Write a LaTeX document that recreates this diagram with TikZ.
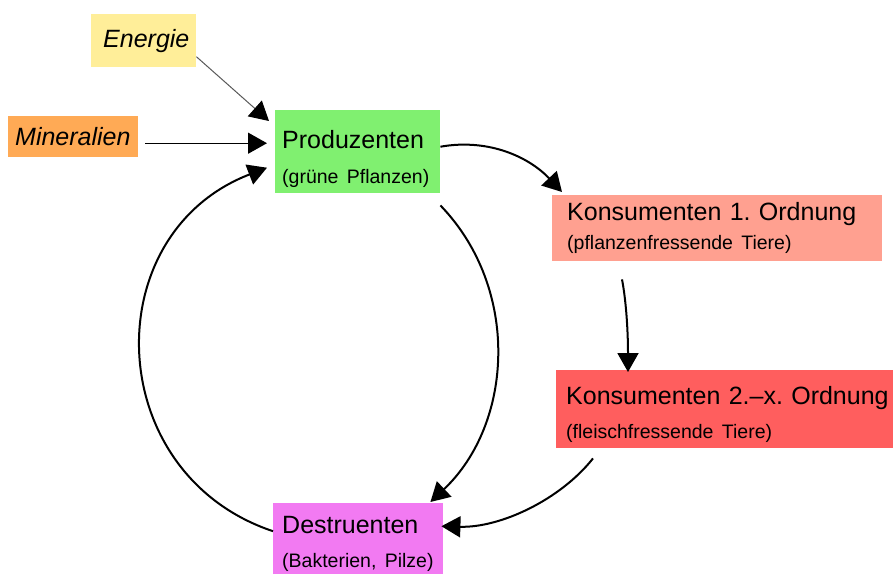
\documentclass[tikz,border=0pt]{standalone}
\usepackage{fontspec}
\setmainfont{Liberation Sans}
\usetikzlibrary{arrows.meta, positioning}

\definecolor{energiegelb}{HTML}{FFEE99}
\definecolor{mineralorange}{HTML}{FFAA55}
\definecolor{produgruen}{HTML}{80F070}
\definecolor{konslachs}{HTML}{FFA090}
\definecolor{konsrot}{HTML}{FF5E5E}
\definecolor{destrlila}{HTML}{F27AF2}

\newcommand{\unter}[1]{{\fontsize{19.5}{24}\selectfont #1}}
\newcommand{\oben}[1]{\rule{0pt}{#1}}

\tikzset{
  feld/.style={anchor=north west, align=left, inner ysep=0pt,
    font=\frenchspacing\fontsize{25}{27}\selectfont},
  pfeil/.style={line width=2pt, -{Triangle[length=19pt, width=21pt, color=black]}}
}

\begin{document}
\begin{tikzpicture}[x=1pt, y=-1pt]
\clip (0,0) rectangle (893,573);
\fill [white] (0,0) rectangle (893,573);

% Zufuhr
\node [feld, fill=energiegelb, minimum height=53, text width=81, inner xsep=12pt] (ener) at (91,14) {\itshape Energie};
\node [feld, fill=mineralorange, minimum height=41, text width=116, inner xsep=7pt] (miner) at (8,116) {\itshape Mineralien};

% Kreislauf
\node [feld, fill=produgruen, minimum height=83, text width=151, inner xsep=7pt] (prod) at (275,110)
  {\oben{32pt}Produzenten\\[8pt]\unter{(grüne Pflanzen)}};
\node [feld, fill=konslachs, minimum height=66, text width=300, inner xsep=15pt] (kons1) at (552,195)
  {Konsumenten 1. Ordnung\\[2pt]\unter{(pflanzenfressende Tiere)}};
\node [feld, fill=konsrot, minimum height=78, text width=360, inner xsep=10pt] (kons2) at (556,370)
  {\oben{28pt}Konsumenten 2.--x. Ordnung\\[7pt]\unter{(fleischfressende Tiere)}};
\node [feld, fill=destrlila, minimum height=74, text width=152, inner xsep=9pt] (destr) at (273,503)
  {\oben{25pt}Destruenten\\[7pt]\unter{(Bakterien, Pilze)}};

\draw [pfeil, line width=1pt, black!65] ([yshift=-16pt]ener.east) -- ([xshift=-6pt,yshift=-11pt]prod.north west);
\draw [pfeil, line width=1.4pt] ([xshift=7pt,yshift=-6.5pt]miner.east) -- ([xshift=-8pt,yshift=8.5pt]prod.west);

\draw [pfeil] ([yshift=5pt]prod.east) .. controls (490,138) and (530,158) .. ([xshift=10pt,yshift=3pt]kons1.north west);
\draw [pfeil] ([xshift=70pt,yshift=-18pt]kons1.south west) .. controls (626,300) and (628,330) .. ([xshift=72pt,yshift=-2pt]kons2.north west);
\draw [pfeil] ([xshift=37pt,yshift=-10pt]kons2.south west) .. controls (560,500) and (500,528) .. ([xshift=-2pt,yshift=14pt]destr.east);
\draw [pfeil] ([yshift=-12pt]prod.south east) .. controls (521,289) and (513,424) .. ([xshift=-13pt,yshift=1pt]destr.north east);
\draw [pfeil] ([yshift=9pt]destr.west) .. controls (102,474) and (95,234) .. ([xshift=-8pt,yshift=-16pt]prod.west);
\end{tikzpicture}
\end{document}
